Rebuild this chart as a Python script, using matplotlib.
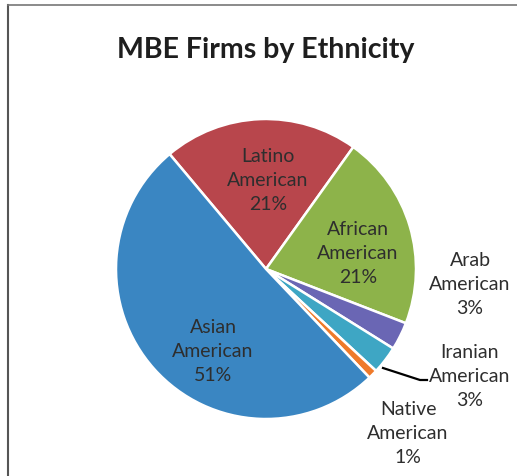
import matplotlib
matplotlib.use("Agg")
import matplotlib.pyplot as plt
from matplotlib.lines import Line2D

categories = ["Latino\nAmerican", "African\nAmerican", "Arab\nAmerican",
              "Iranian\nAmerican", "Native\nAmerican", "Asian\nAmerican"]
values = [21, 21, 3, 3, 1, 51]
pct_labels = ["21%", "21%", "3%", "3%", "1%", "51%"]
colors = ["#b8464c", "#8db34a", "#6a66b4", "#3ea6c4", "#ef7a2a", "#3a86c2"]

W, H = 517, 477
fig = plt.figure(figsize=(W / 100, H / 100), dpi=100)
fig.patch.set_facecolor("white")

# pie axes: center (266,270), radius ~150 px
cx, cy, r = 266, 270, 150
ax = fig.add_axes([(cx - r) / W, 1 - (cy + r) / H, 2 * r / W, 2 * r / H])
wedges, _ = ax.pie(values, colors=colors, startangle=130, counterclock=False,
                   wedgeprops=dict(edgecolor="white", linewidth=1.8))
ax.set_xlim(-1, 1)
ax.set_ylim(-1, 1)
ax.set_aspect("equal")
ax.axis("off")

font = "Lato"
tc = "#2e2e2e"

def px(x, y):
    return x / W, 1 - y / H

fig.text(*px(266, 50), "MBE Firms by Ethnicity", ha="center", va="center",
         fontsize=20.5, fontweight="bold", family=font, color="#1e1e1e")

label_pos = [(268, 181), (358, 254), (470, 284), (470, 377), (408, 434), (213, 352)]
for cat, pct, (x, y) in zip(categories, pct_labels, label_pos):
    fig.text(*px(x, y), cat + "\n" + pct, ha="center", va="center",
             fontsize=14, family=font, color=tc, linespacing=1.5)

# leader line for Iranian American
xs = [383 / W, 420 / W, 427 / W]
ys = [1 - 369 / H, 1 - 381 / H, 1 - 381 / H]
fig.add_artist(Line2D(xs, ys, color="black", linewidth=1.6))

# frame border (left and top only visible)
fig.add_artist(Line2D([8 / W, 8 / W], [0, 1 - 6 / H], color="#555555", linewidth=1.5))
fig.add_artist(Line2D([8 / W, 1], [1 - 6 / H, 1 - 6 / H], color="#777777", linewidth=1.2))

fig.savefig("out.png", dpi=100)
